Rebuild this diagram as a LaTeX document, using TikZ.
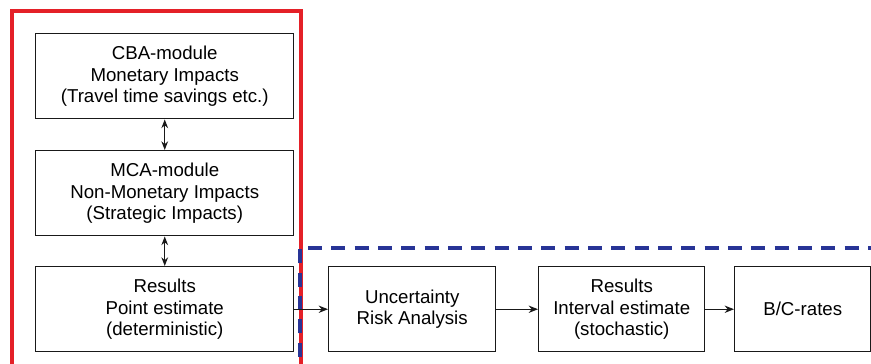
\documentclass[tikz,border=0pt]{standalone}
\usepackage{fontspec}
\setmainfont{Liberation Sans}
\usetikzlibrary{arrows.meta}
\definecolor{redframe}{RGB}{228,32,40}
\definecolor{blueframe}{RGB}{40,52,150}
\definecolor{boxline}{RGB}{25,25,25}
\tikzset{
  stepbox/.style={draw=boxline, line width=1.1pt, fill=white, align=center, inner sep=0pt,
    font=\fontsize{14}{16.3}\selectfont, anchor=north west},
  conn/.style={draw=boxline, line width=0.95pt, -{Stealth[length=7pt,width=5.5pt]}},
  biconn/.style={draw=boxline, line width=0.95pt, {Stealth[length=6.5pt,width=5pt]}-{Stealth[length=6.5pt,width=5pt]}},
}
\begin{document}
\begin{tikzpicture}[x=0.75pt,y=-0.75pt]
\useasboundingbox (0,0) rectangle (871,364);
\clip (0,0) rectangle (871,364);
\fill[white] (0,0) rectangle (871,364);
% frames
\draw[redframe, line width=2.4pt] (12,380) -- (12,11) -- (301,11) -- (301,380);
\draw[blueframe, line width=2.4pt, dash pattern=on 10.5pt off 7pt] (300,380) -- (300,248) -- (880,248);
% boxes
\node[stepbox, minimum width=193.5pt, minimum height=63.75pt] (cba) at (35,33)
  {CBA-module\\Monetary Impacts\\(Travel time savings etc.)};
\node[stepbox, minimum width=193.5pt, minimum height=63.75pt] (mca) at (35,150)
  {MCA-module\\Non-Monetary Impacts\\(Strategic Impacts)};
\node[stepbox, minimum width=193.5pt, minimum height=63.75pt] (res) at (35,266)
  {Results\\Point estimate\\(deterministic)};
\node[stepbox, minimum width=125.25pt, minimum height=63.75pt] (unc) at (328,266)
  {Uncertainty\\Risk Analysis};
\node[stepbox, minimum width=124.5pt, minimum height=63.75pt] (int) at (538,266)
  {Results\\Interval estimate\\(stochastic)};
\node[stepbox, minimum width=102pt, minimum height=63.75pt] (bc) at (734,266)
  {B/C-rates};
% connectors
\draw[biconn] (cba.south) -- (mca.north);
\draw[biconn] (mca.south) -- (res.north);
\draw[conn] (res.east) -- (unc.west);
\draw[conn] (unc.east) -- (int.west);
\draw[conn] (int.east) -- (bc.west);
\end{tikzpicture}
\end{document}
